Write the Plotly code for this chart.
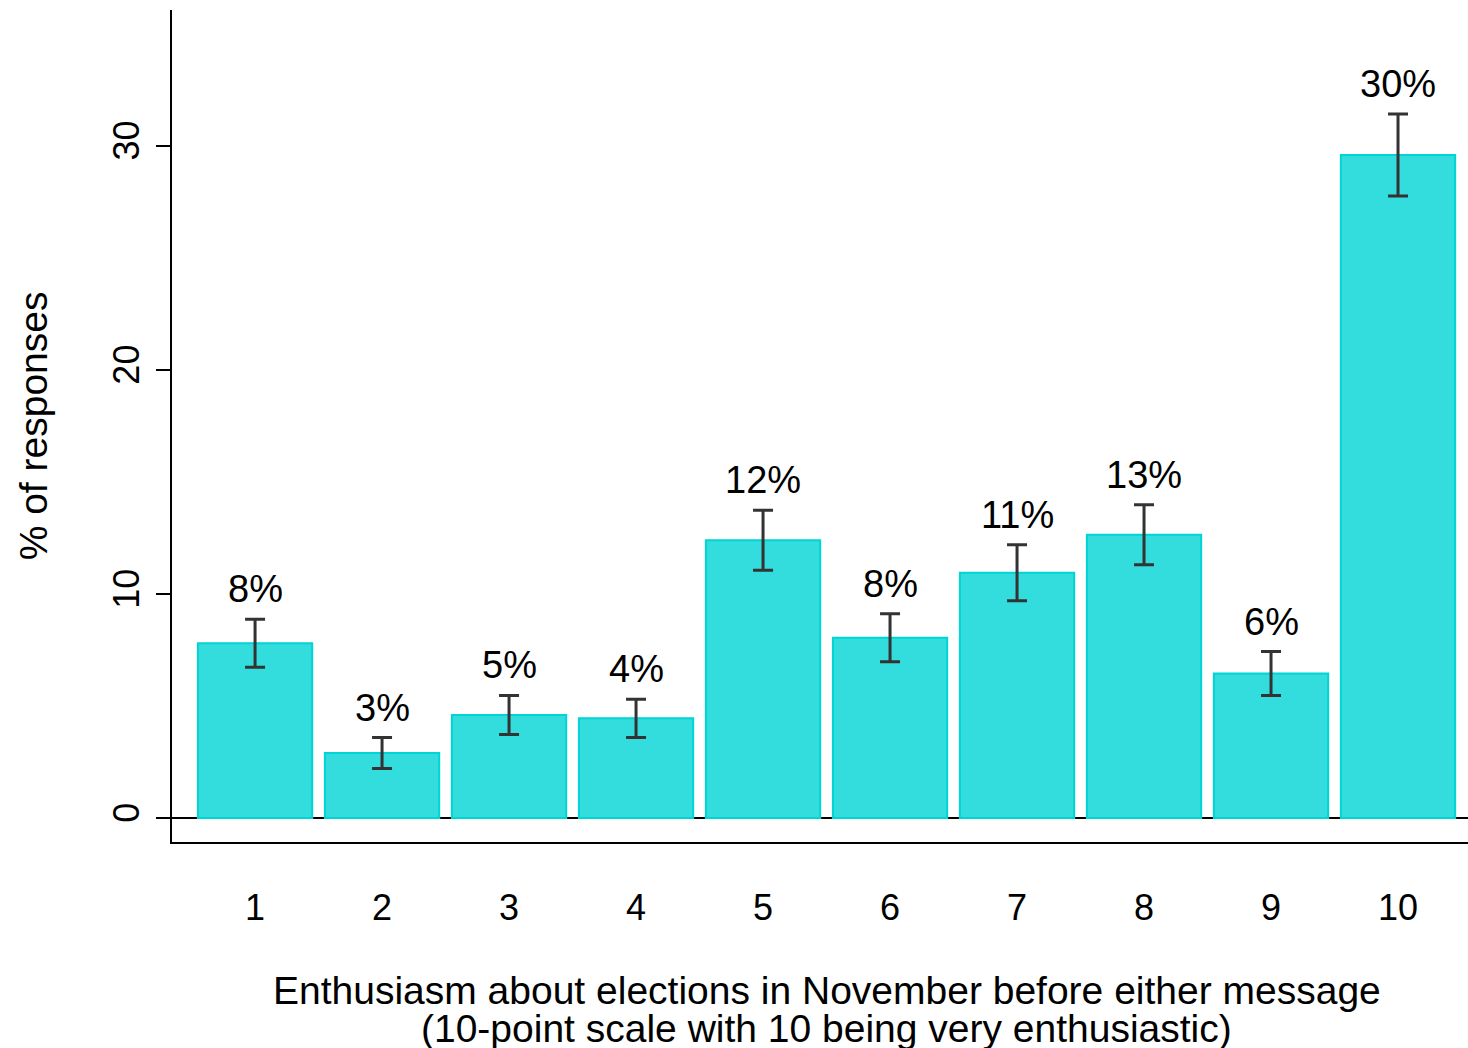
import plotly.graph_objects as go

# Share of responses per enthusiasm score, with symmetric 95% intervals
scores = [1, 2, 3, 4, 5, 6, 7, 8, 9, 10]
pct = [7.8, 2.9, 4.6, 4.45, 12.4, 8.05, 10.95, 12.65, 6.45, 29.6]
err = [1.07, 0.69, 0.87, 0.85, 1.34, 1.07, 1.25, 1.34, 0.98, 1.83]
y_ticks = [0, 10, 20, 30]

FONT = "Liberation Sans, Arial, Helvetica, sans-serif"

fig = go.Figure()
fig.add_trace(go.Bar(
    x=scores,
    y=pct,
    width=0.9,
    marker=dict(color="#33DDDD", line=dict(color="#00D4D4", width=2)),
    error_y=dict(type="data", array=err, visible=True,
                 color="#333333", thickness=3, width=10),
    hoverinfo="x+y",
))

# Rounded percentage labels above each interval
for s, v, e in zip(scores, pct, err):
    fig.add_annotation(
        x=s, y=v + e, xref="x", yref="y",
        text=f"{round(v)}%", showarrow=False,
        yanchor="bottom", yshift=7,
        font=dict(family=FONT, size=38, color="black"),
    )

# Axis titles
fig.add_annotation(
    x=-0.107, y=0.5, xref="paper", yref="paper",
    text="% of responses", textangle=-90, showarrow=False,
    xanchor="center", yanchor="middle",
    font=dict(family=FONT, size=39, color="black"),
)
fig.add_annotation(
    x=0.5054, y=990, xref="paper", yref="paper",
    text="Enthusiasm about elections in November before either message",
    showarrow=False, xanchor="center", yanchor="middle",
    font=dict(family=FONT, size=39, color="black"),
)
fig.add_annotation(
    x=0.5054, y=1028, xref="paper", yref="paper",
    text="(10-point scale with 10 being very enthusiastic)",
    showarrow=False, xanchor="center", yanchor="middle",
    font=dict(family=FONT, size=39, color="black"),
)

# convert the two x-title rows from pixel rows to paper coordinates
H, TOP, BOTTOM = 1048, 10, 206
plot_h = H - TOP - BOTTOM
for ann in fig.layout.annotations[-2:]:
    ann.y = (H - BOTTOM - ann.y) / plot_h

fig.update_layout(
    width=1468, height=1048,
    margin=dict(l=172, r=0, t=TOP, b=BOTTOM, pad=0),
    paper_bgcolor="white", plot_bgcolor="white",
    showlegend=False,
    font=dict(family=FONT, color="black"),
    bargap=0.1,
)
fig.update_xaxes(
    range=[0.346, 10.551],
    tickvals=scores, ticktext=[str(s) for s in scores],
    showline=True, linecolor="black", linewidth=2,
    ticks="", showgrid=False, zeroline=False,
    ticklabelstandoff=33,
    tickfont=dict(family=FONT, size=36, color="black"),
)
fig.update_yaxes(
    range=[-1.07, 36.07],
    tickvals=y_ticks, ticktext=[str(t) for t in y_ticks],
    showline=True, linecolor="black", linewidth=2,
    ticks="outside", ticklen=14, tickwidth=2, tickcolor="black",
    tickangle=-90, ticklabelstandoff=3,
    showgrid=False,
    zeroline=True, zerolinecolor="black", zerolinewidth=2,
    tickfont=dict(family=FONT, size=36, color="black"),
)

fig.write_html("out.html")
